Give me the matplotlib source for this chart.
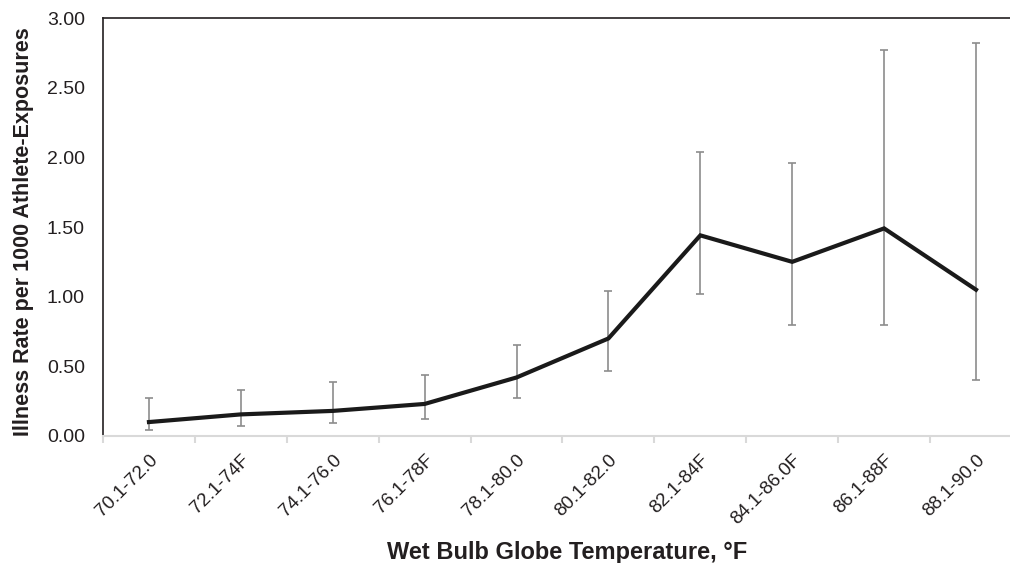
import numpy as np
import matplotlib.pyplot as plt
from matplotlib.ticker import FixedLocator

plt.rcParams['font.family'] = ['Liberation Sans', 'DejaVu Sans']

categories = ['70.1-72.0', '72.1-74F', '74.1-76.0', '76.1-78F', '78.1-80.0',
              '80.1-82.0', '82.1-84F', '84.1-86.0F', '86.1-88F', '88.1-90.0']
rate = np.array([0.10, 0.155, 0.18, 0.23, 0.42, 0.70, 1.44, 1.25, 1.49, 1.05])
ci_low = np.array([0.04, 0.07, 0.09, 0.12, 0.27, 0.47, 1.02, 0.80, 0.80, 0.40])
ci_high = np.array([0.27, 0.33, 0.39, 0.44, 0.65, 1.04, 2.04, 1.96, 2.77, 2.82])

x = np.arange(len(categories))

fig = plt.figure(figsize=(10.1, 5.63), dpi=100)
ax = fig.add_axes([0.102, 0.2256, 0.898, 0.7424])

ax.errorbar(x, rate, yerr=[rate - ci_low, ci_high - rate], fmt='none',
            ecolor='#8c8c8c', elinewidth=1.2, capsize=3, capthick=1.2, zorder=2)
ax.plot(x, rate, color='#1a1a1a', linewidth=3, solid_joinstyle='miter', zorder=3)

ax.set_xlim(-0.5, 9.37)
ax.set_ylim(0, 3)
ax.set_yticks(np.arange(0, 3.01, 0.5))
ax.set_yticklabels(['%.2f' % v for v in np.arange(0, 3.01, 0.5)], fontsize=14, color='#231f20')
ax.tick_params(axis='y', length=0, pad=13)

ax.set_xticks(x)
ax.set_xticklabels(categories, rotation=45, ha='right', rotation_mode='anchor',
                   fontsize=13.5, color='#231f20')
ax.tick_params(axis='x', which='major', length=0, pad=11)
ax.xaxis.set_minor_locator(FixedLocator(np.arange(-0.5, 10, 1)))
ax.tick_params(axis='x', which='minor', length=5, color='#d9d9d9', width=1.5)

for s in ['left', 'top']:
    ax.spines[s].set_color('#231f20')
    ax.spines[s].set_linewidth(1.2)
ax.spines['right'].set_visible(False)
ax.spines['bottom'].set_color('#d9d9d9')
ax.spines['bottom'].set_linewidth(1.5)

ax.set_ylabel('Illness Rate per 1000 Athlete-Exposures', fontsize=15.5,
              fontweight='bold', color='#231f20')
ax.yaxis.set_label_coords(-0.076, 0.49)
ax.set_xlabel('Wet Bulb Globe Temperature, °F', fontsize=17,
              fontweight='bold', color='#231f20', va='center')
ax.xaxis.set_label_coords(0.512, -0.278)

fig.savefig('out.png', dpi=100)
